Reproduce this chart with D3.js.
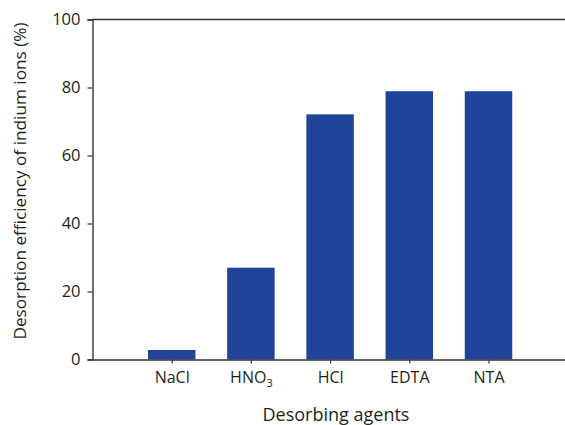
<!DOCTYPE html>
<html>
<head>
<meta charset="utf-8">
<script src="https://cdn.jsdelivr.net/npm/d3@7"></script>
<style>
  body { margin: 0; background: #fff; }
  text { font-family: "Open Sans", "Noto Sans", sans-serif; fill: #231f20; }
</style>
</head>
<body>
<svg id="chart"></svg>
<script>
// dữ liệu
const agents = ["NaCl", "HNO3", "HCl", "EDTA", "NTA"];
const efficiency = [2.8, 27, 72.1, 78.9, 78.9];
const yTicks = [0, 20, 40, 60, 80, 100];

const width = 565, height = 425;
const margin = { top: 19.5, right: 0, bottom: 65.5, left: 92.5 };

const svg = d3.select("#chart")
    .attr("width", width)
    .attr("height", height);

// trục x: một ô trống ở mỗi đầu
const x = d3.scalePoint()
    .domain(["_a", ...agents, "_b"])
    .range([margin.left, margin.left + 79.2 * 6]);
const barW = 47.5;

const y = d3.scaleLinear()
    .domain([0, 100])
    .range([height - margin.bottom, margin.top]);

// cột
svg.selectAll(".bar")
    .data(agents.map((a, i) => ({ a, v: efficiency[i] })))
    .enter()
    .append("rect")
    .attr("x", d => x(d.a) - barW / 2)
    .attr("y", d => y(d.v))
    .attr("width", barW)
    .attr("height", d => y(0) - y(d.v))
    .attr("fill", "#20449a");

// trục y
const yAxis = svg.append("g")
    .attr("transform", `translate(${margin.left},0)`)
    .call(d3.axisLeft(y).tickValues(yTicks).tickSize(5).tickPadding(7));
yAxis.select(".domain").attr("stroke", "#333").attr("stroke-width", 1.4);
yAxis.selectAll(".tick line").attr("stroke", "#333").attr("stroke-width", 1.2);
yAxis.selectAll("text").style("font-size", "16.5px").attr("fill", "#231f20");

// trục x
const xAxis = svg.append("g")
    .attr("transform", `translate(0,${y(0)})`)
    .call(d3.axisBottom(x).tickValues(agents).tickSize(4).tickPadding(8).tickSizeOuter(0));
xAxis.select(".domain").attr("stroke", "#333").attr("stroke-width", 1.4);
xAxis.selectAll(".tick line").attr("stroke", "#333").attr("stroke-width", 1.2);
xAxis.selectAll("text").style("font-size", "16px").attr("fill", "#231f20")
    .each(function (d) {
        if (d === "HNO3") {
            const t = d3.select(this).text("HNO");
            t.append("tspan").attr("dy", 4).style("font-size", "11px").text("3");
        }
    });

// đường viền trên
svg.append("line")
    .attr("x1", margin.left).attr("x2", width)
    .attr("y1", y(100)).attr("y2", y(100))
    .attr("stroke", "#333").attr("stroke-width", 1.4);

// nhãn trục
svg.append("text")
    .attr("x", 336).attr("y", 421)
    .attr("text-anchor", "middle")
    .style("font-size", "18px")
    .text("Desorbing agents");

svg.append("text")
    .attr("transform", "rotate(-90)")
    .attr("x", -181).attr("y", 26)
    .attr("text-anchor", "middle")
    .style("font-size", "17.2px")
    .text("Desorption efficiency of indium ions (%)");
</script>
</body>
</html>
